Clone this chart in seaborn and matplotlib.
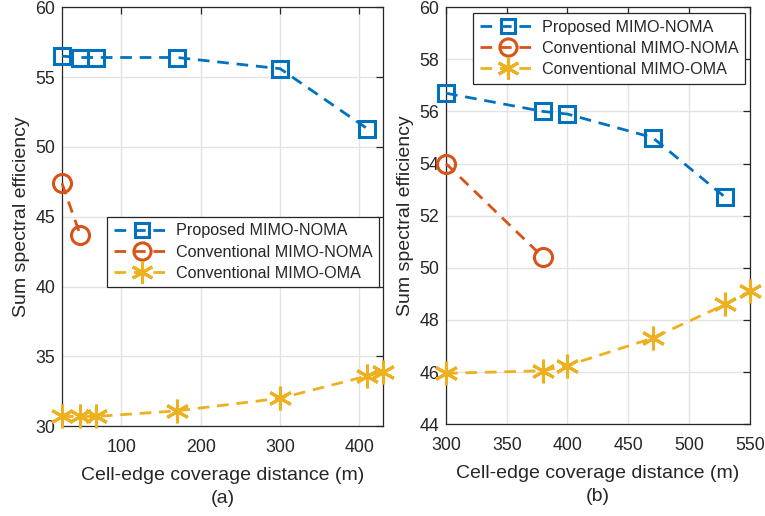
import numpy as np
import matplotlib
matplotlib.use('Agg')
import matplotlib.pyplot as plt
import seaborn as sns

# panel (a)
dist_a = [25, 48, 68, 170, 300, 410, 430]
prop_a = [56.5, 56.4, 56.4, 56.4, 55.6, 51.3]
dist_prop_a = [25, 48, 68, 170, 300, 410]
conv_noma_a = [47.4, 43.7]
dist_noma_a = [25, 48]
oma_a = [30.7, 30.7, 30.7, 31.1, 32.0, 33.6, 33.9]

# panel (b)
dist_b = [300, 380, 400, 470, 530, 550]
dist_prop_b = [300, 380, 400, 470, 530]
prop_b = [56.7, 56.0, 55.9, 55.0, 52.7]
dist_noma_b = [300, 380]
conv_noma_b = [54.0, 50.4]
oma_b = [45.95, 46.05, 46.25, 47.3, 48.6, 49.1]

labels = ['Proposed MIMO-NOMA', 'Conventional MIMO-NOMA', 'Conventional MIMO-OMA']
colors = ['#0072BD', '#D95319', '#EDB120']
markers = ['s', 'o', (6, 2, 0)]
msizes = [11, 13, 17]

sns.set_style('white')
plt.rcParams['font.family'] = ['Liberation Sans', 'DejaVu Sans']
plt.rcParams['text.color'] = '#262626'
plt.rcParams['axes.labelcolor'] = '#262626'
plt.rcParams['xtick.color'] = '#262626'
plt.rcParams['ytick.color'] = '#262626'

fig = plt.figure(figsize=(7.65, 5.16), dpi=100)
ax1 = fig.add_axes([0.081, 0.174, 0.420, 0.812])
ax2 = fig.add_axes([0.583, 0.178, 0.397, 0.808])


def draw(ax, xs, ys):
    for x, y, lab, c, m, s in zip(xs, ys, labels, colors, markers, msizes):
        sns.lineplot(x=x, y=y, ax=ax, color=c, label=lab, linestyle=(0, (4.2, 2.8)),
                     linewidth=2, marker=m, markersize=s, markerfacecolor='none',
                     markeredgecolor=c, markeredgewidth=2.2, clip_on=False, zorder=3)
    ax.grid(True, color='#e3e3e3', linewidth=1)
    ax.set_axisbelow(True)
    for sp in ax.spines.values():
        sp.set_color('#262626')
        sp.set_linewidth(0.9)
    ax.tick_params(direction='in', top=True, right=True, length=5, width=0.9,
                   labelsize=12.8)
    ax.tick_params(axis='x', pad=9)
    ax.tick_params(axis='y', pad=5)
    ax.set_ylabel('Sum spectral efficiency', fontsize=14)


def legend(ax, anchor):
    leg = ax.legend(loc='upper left', bbox_to_anchor=anchor, fontsize=11.6,
                    handlelength=3.45, fancybox=False, framealpha=1, edgecolor='#262626',
                    borderpad=0.42, labelspacing=0.38, handletextpad=0.4,
                    borderaxespad=0, markerscale=0.95)
    leg.get_frame().set_linewidth(0.9)


draw(ax1, [dist_prop_a, dist_noma_a, dist_a], [prop_a, conv_noma_a, oma_a])
ax1.set_xlim(25, 430)
ax1.set_ylim(30, 60)
ax1.set_xticks([100, 200, 300, 400])
ax1.set_yticks([30, 35, 40, 45, 50, 55, 60])
ax1.set_xlabel('Cell-edge coverage distance (m)\n(a)', fontsize=14,
               linespacing=1.5, labelpad=8)
legend(ax1, (0.14, 0.5))

draw(ax2, [dist_prop_b, dist_noma_b, dist_b], [prop_b, conv_noma_b, oma_b])
ax2.set_xlim(300, 550)
ax2.set_ylim(44, 60)
ax2.set_xticks([300, 350, 400, 450, 500, 550])
ax2.set_yticks(np.arange(44, 61, 2))
ax2.set_xlabel('Cell-edge coverage distance (m)\n(b)', fontsize=14,
               linespacing=1.5, labelpad=8)
legend(ax2, (0.089, 0.986))

fig.savefig('out.png', dpi=100)
